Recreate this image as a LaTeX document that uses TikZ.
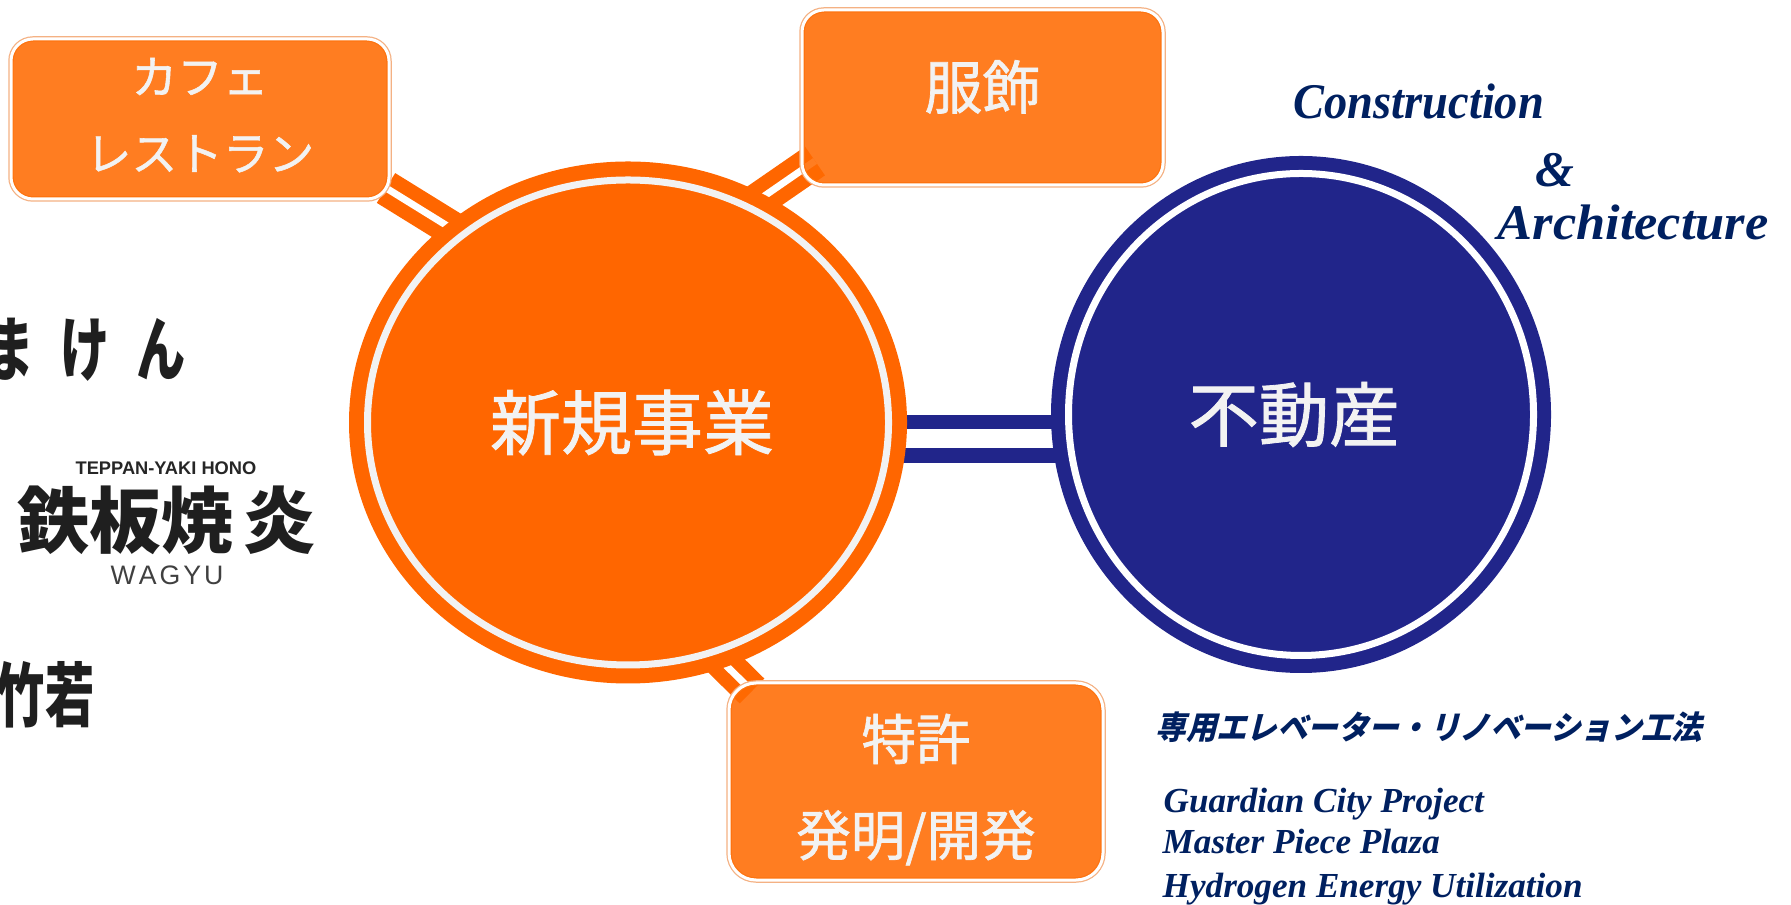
\documentclass[tikz,border=0pt]{standalone}
\usepackage{fontspec}
\usepackage{tikz}
\usetikzlibrary{shapes.geometric}
\setmainfont{Liberation Serif}
\newfontfamily\cjk{Noto Sans CJK JP}
\newfontfamily\cjkmed[FakeBold=1.2]{Noto Sans CJK JP}
\newfontfamily\cjkit[FakeSlant=0.25,FakeStretch=0.94]{Noto Sans CJK JP}
\newfontfamily\cjktall[FakeStretch=0.7]{Noto Sans CJK JP}
\newfontfamily\logosans{Liberation Sans}
\definecolor{shinkiorange}{HTML}{FF6600}
\definecolor{boxorange}{HTML}{FF6A00}
\definecolor{boxedge}{HTML}{F4B183}
\definecolor{fudosanblue}{HTML}{21258A}
\definecolor{textnavy}{HTML}{002060}
\definecolor{labelwhite}{HTML}{F2F2F2}
\tikzstyle{Shinki}=[shape=ellipse, inner sep=0, minimum width=5.21cm, minimum height=4.85cm, fill=shinkiorange, draw=shinkiorange, line width=0.15cm, double=labelwhite, double distance=0.07cm, text=labelwhite, font=\cjkmed\fontsize{20.2}{24}\selectfont]
\tikzstyle{Fudosan}=[shape=ellipse, inner sep=0, minimum width=4.65cm, minimum height=4.82cm, fill=fudosanblue, draw=fudosanblue, line width=0.14cm, double=white, double distance=0.07cm, text=labelwhite, font=\cjkmed\fontsize{20}{24}\selectfont]
\tikzstyle{Box}=[shape=rectangle, rounded corners=0.22cm, inner sep=0, align=center, fill=boxorange, fill opacity=0.87, text opacity=1, draw=white, line width=0.03cm, preaction={draw=boxedge, line width=0.055cm}, text=labelwhite]
\tikzstyle{Bar}=[line width=0.35cm, draw=shinkiorange]
\tikzstyle{BarGap}=[line width=0.07cm, draw=white]
\tikzstyle{Navy}=[inner sep=0, anchor=base west, text=textnavy, font=\bfseries\itshape\fontsize{14.2}{17}\selectfont]
\tikzstyle{Project}=[inner sep=0, anchor=base west, text=textnavy, font=\bfseries\itshape\fontsize{10}{12}\selectfont]
\tikzstyle{Logo}=[inner sep=0, text=black!88, font=\cjk\bfseries]
\pgfdeclarelayer{nodelayer}
\pgfdeclarelayer{edgelayer}
\pgfsetlayers{edgelayer, main, nodelayer}
\begin{document}
\begin{tikzpicture}
	\useasboundingbox (0, 0) rectangle (17.91, 9.04);
	\begin{pgfonlayer}{nodelayer}
		\node [style=Shinki] (shinki) at (6.28, 4.815) {\hspace*{0.08cm}\raisebox{0.02cm}{新規事業}};
		\node [style=Fudosan] (fudosan) at (13.01, 4.895) {\hspace*{-0.14cm}不動産};
		\node [style=Box, minimum width=3.78cm, minimum height=1.60cm, font=\cjkmed\fontsize{13}{21.8}\selectfont] (cafe) at (2.00, 7.85) {カフェ\\レストラン\rule[-0.095cm]{0pt}{0pt}};
		\node [style=Box, minimum width=3.61cm, minimum height=1.75cm, font=\cjkmed\fontsize{16.5}{20}\selectfont] (fukushoku) at (9.825, 8.065) {\raisebox{0.26cm}{服飾}};
		\node [style=Box, rounded corners=0.27cm, minimum width=3.74cm, minimum height=1.97cm, font=\cjkmed\fontsize{15.5}{27.3}\selectfont] (tokkyo) at (9.16, 1.225) {\rule{0pt}{0.62cm}特許\\発明/開発};

		% right hand texts
		\node [style=Navy] (construction) at (12.93, 7.85) {\addfontfeature{FakeStretch=0.93}Construction};
		\node [style=Navy] (ampersand) at (15.35, 7.17) {\&};
		\node [style=Navy] (architecture) at (14.97, 6.64) {\addfontfeature{FakeStretch=1.05}Architecture};
		\node [inner sep=0, anchor=west, text=textnavy, font=\cjkit\bfseries\fontsize{9.2}{11}\selectfont] (elevator) at (11.55, 1.77) {専用エレベーター・リノベーション工法};
		\node [style=Project] (guardian) at (11.63, 0.92) {Guardian City Project};
		\node [style=Project] (masterpiece) at (11.62, 0.51) {Master Piece Plaza};
		\node [style=Project] (hydrogen) at (11.62, 0.07) {Hydrogen Energy Utilization};

		% logos on the left
		\node [style=Logo, anchor=west, font=\cjktall\bfseries\fontsize{20}{24}\selectfont] (maken) at (-0.15, 5.54) {ま\hspace{0.26cm}け\hspace{0.26cm}ん};
		\node [inner sep=0, text=black!85, font=\logosans\bfseries\fontsize{5.2}{7}\selectfont] (teppan) at (1.66, 4.36) {TEPPAN-YAKI HONO};
		\node [style=Logo, anchor=west, font=\cjk\bfseries\fontsize{20.5}{24}\selectfont] (hono) at (0.17, 3.84) {鉄板焼\hspace{0.1cm}炎};
		\node [inner sep=0, text=black!75, font=\logosans\fontsize{7.6}{10}\selectfont] (wagyu) at (1.67, 3.29) {W\hspace{0.03cm}A\hspace{0.03cm}G\hspace{0.03cm}Y\hspace{0.03cm}U};
		\node [style=Logo, anchor=east, font=\cjktall\bfseries\fontsize{20}{24}\selectfont] (chikuwaka) at (0.95, 2.09) {竹若};
	\end{pgfonlayer}
	\begin{pgfonlayer}{edgelayer}
		\coordinate (cafeend) at (3.86, 7.16);
		\coordinate (fukuend) at (8.15, 7.43);
		\coordinate (tokkyoend) at (7.52, 2.13);
		\draw [style=Bar] (cafeend) to (shinki.132);
		\draw [style=BarGap, shorten >=0.1cm] (cafeend) to (shinki.132);
		\draw [style=Bar] (fukuend) to (shinki.60);
		\draw [style=BarGap, shorten >=0.1cm] (fukuend) to (shinki.60);
		\draw [style=Bar] (tokkyoend) to (shinki.-69);
		\draw [style=BarGap, shorten <=0.08cm, shorten >=0.1cm] (tokkyoend) to (shinki.-69);
		\draw [style=Bar, line width=0.48cm, draw=fudosanblue] ([yshift=-0.165cm]shinki.center) to ([yshift=-0.245cm]fudosan.center);
		\draw [style=BarGap, line width=0.19cm] ([yshift=-0.165cm]shinki.center) to ([yshift=-0.245cm]fudosan.center);
	\end{pgfonlayer}
\end{tikzpicture}
\end{document}
